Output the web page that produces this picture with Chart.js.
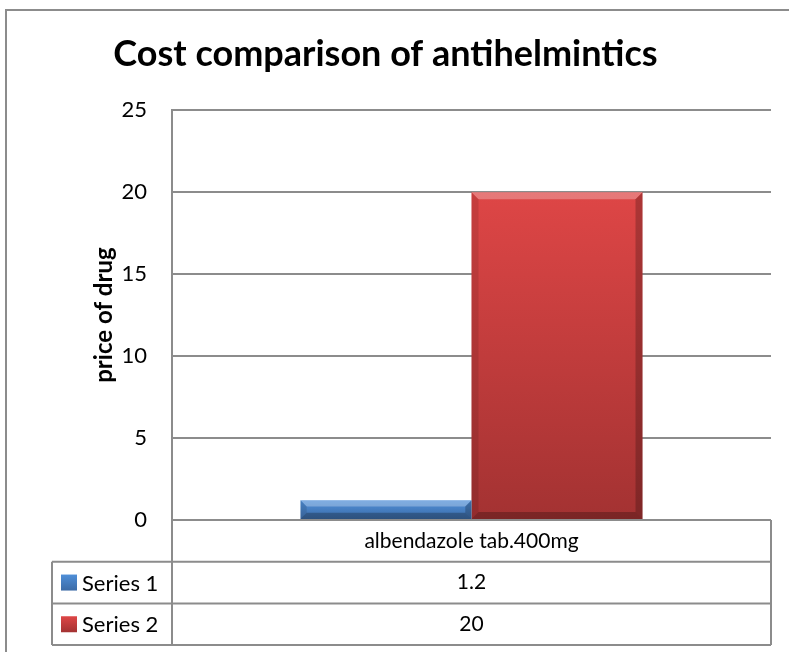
<!DOCTYPE html>
<html>
<head>
<meta charset="utf-8">
<script src="https://cdn.jsdelivr.net/npm/chart.js@4.4.1/dist/chart.umd.min.js"></script>
<style>
    html, body { margin: 0; padding: 0; background: #FFFFFF; }
    #wrap { width: 789px; height: 652px; }
</style>
</head>
<body>
<div id="wrap"><canvas id="chart-bars" width="789" height="652"></canvas></div>
<script>
const categories = ['albendazole tab.400mg'];
const seriesNames = ['Series 1', 'Series 2'];
const series1 = [1.2];
const series2 = [20];
const yTicks = [0, 5, 10, 15, 20, 25];

const LINE = '#8C8C8C';
const FONT = 'Lato, "Liberation Sans", sans-serif';

// top / bottom colours of the gradient for each series
const shades = [
    ['#4F8FD8', '#3C6BA6'],
    ['#DE4646', '#A33232']
];

function barGradient(ctx, i) {
    const chart = ctx.chart;
    const area = chart.chartArea;
    if (!area) return shades[i][0];
    const value = ctx.raw || 0;
    const top = chart.scales.y.getPixelForValue(value);
    const g = chart.ctx.createLinearGradient(0, top, 0, area.bottom);
    g.addColorStop(0, shades[i][0]);
    g.addColorStop(1, shades[i][1]);
    return g;
}

// white background and the outer frame
const frame = {
    id: 'frame',
    beforeDraw(chart) {
        const c = chart.ctx;
        c.save();
        c.fillStyle = '#FFFFFF';
        c.fillRect(0, 0, chart.width, chart.height);
        c.strokeStyle = LINE;
        c.lineWidth = 2;
        c.strokeRect(6, 10, chart.width + 20, chart.height + 20);
        c.restore();
    }
};

// bevelled edges like the office 3D bars
const bevel = {
    id: 'bevel',
    afterDatasetsDraw(chart) {
        const c = chart.ctx;
        chart.data.datasets.forEach((ds, di) => {
            chart.getDatasetMeta(di).data.forEach(bar => {
                const l = bar.x - bar.width / 2, r = bar.x + bar.width / 2;
                const t = bar.y, b = bar.base;
                const d = Math.min(7, (b - t) / 3);
                c.save();
                c.fillStyle = 'rgba(255,255,255,0.28)';
                c.beginPath();
                c.moveTo(l, t); c.lineTo(r, t); c.lineTo(r - d, t + d); c.lineTo(l + d, t + d);
                c.closePath(); c.fill();
                c.fillStyle = 'rgba(0,0,0,0.10)';
                c.beginPath();
                c.moveTo(l, t); c.lineTo(l + d, t + d); c.lineTo(l + d, b - d); c.lineTo(l, b);
                c.closePath(); c.fill();
                c.fillStyle = 'rgba(0,0,0,0.22)';
                c.beginPath();
                c.moveTo(r, t); c.lineTo(r - d, t + d); c.lineTo(r - d, b - d); c.lineTo(r, b);
                c.closePath(); c.fill();
                c.fillStyle = 'rgba(0,0,0,0.25)';
                c.beginPath();
                c.moveTo(l, b); c.lineTo(l + d, b - d); c.lineTo(r - d, b - d); c.lineTo(r, b);
                c.closePath(); c.fill();
                c.restore();
            });
        });
    }
};

// data table under the plot
const dataTable = {
    id: 'dataTable',
    afterDraw(chart) {
        const c = chart.ctx;
        const area = chart.chartArea;
        const rowH = 41.7;
        const keyLeft = 52;
        const y0 = area.bottom;
        c.save();
        c.strokeStyle = LINE;
        c.lineWidth = 2;
        c.beginPath();
        for (let k = 1; k <= 3; k++) {
            c.moveTo(keyLeft, y0 + rowH * k);
            c.lineTo(area.right, y0 + rowH * k);
        }
        c.moveTo(area.left, y0); c.lineTo(area.left, y0 + rowH * 3);
        c.moveTo(area.right, y0); c.lineTo(area.right, y0 + rowH * 3);
        c.moveTo(keyLeft, y0 + rowH); c.lineTo(keyLeft, y0 + rowH * 3);
        c.stroke();

        c.fillStyle = '#000000';
        c.font = '21px ' + FONT;
        c.textBaseline = 'middle';
        c.textAlign = 'center';
        categories.forEach((cat, i) => {
            const x = chart.scales.x.getPixelForTick(i);
            c.fillText(cat, x, y0 + rowH / 2);
            chart.data.datasets.forEach((ds, di) => {
                c.fillText(String(ds.data[i]), x, y0 + rowH * (di + 1.5));
            });
        });

        c.textAlign = 'left';
        c.font = '22px ' + FONT;
        chart.data.datasets.forEach((ds, di) => {
            const cy = y0 + rowH * (di + 1.5);
            const g = c.createLinearGradient(0, cy - 8, 0, cy + 8);
            g.addColorStop(0, shades[di][0]);
            g.addColorStop(1, shades[di][1]);
            c.fillStyle = g;
            c.fillRect(61, cy - 8, 16, 16);
            c.fillStyle = '#000000';
            c.fillText(ds.label, 82, cy + 1);
        });
        c.restore();
    }
};

const ctx = document.getElementById('chart-bars');
const barChart = new Chart(ctx, {
    type: 'bar',
    data: {
        labels: categories,
        datasets: [{
            label: seriesNames[0],
            data: series1,
            backgroundColor: c => barGradient(c, 0)
        }, {
            label: seriesNames[1],
            data: series2,
            backgroundColor: c => barGradient(c, 1)
        }]
    },
    options: {
        responsive: false,
        animation: false,
        devicePixelRatio: 1,
        layout: {
            padding: { left: 0, right: 18, top: 0, bottom: 132 }
        },
        datasets: {
            bar: {
                barPercentage: 1,
                categoryPercentage: 0.571
            }
        },
        plugins: {
            legend: { display: false },
            tooltip: { enabled: false },
            title: {
                display: true,
                text: 'Cost comparison of antihelmintics',
                color: '#000000',
                font: { family: FONT, size: 36, weight: 'bold', lineHeight: 1.2 },
                padding: { top: 33, bottom: 34 }
            }
        },
        scales: {
            x: {
                display: false
            },
            y: {
                min: yTicks[0],
                max: yTicks[yTicks.length - 1],
                afterFit: scale => { scale.width = 172; },
                afterBuildTicks: scale => {
                    scale.ticks = yTicks.map(v => ({ value: v }));
                },
                ticks: {
                    color: '#000000',
                    padding: 25,
                    font: { family: FONT, size: 22 }
                },
                grid: {
                    color: LINE,
                    lineWidth: 2,
                    drawTicks: false
                },
                border: {
                    color: LINE,
                    width: 2
                },
                title: {
                    display: true,
                    text: 'price of drug',
                    color: '#000000',
                    font: { family: FONT, size: 24, weight: 'bold', lineHeight: 1.2 },
                    padding: { top: 90, bottom: 0 }
                }
            }
        }
    },
    plugins: [frame, bevel, dataTable]
});
</script>
</body>
</html>
